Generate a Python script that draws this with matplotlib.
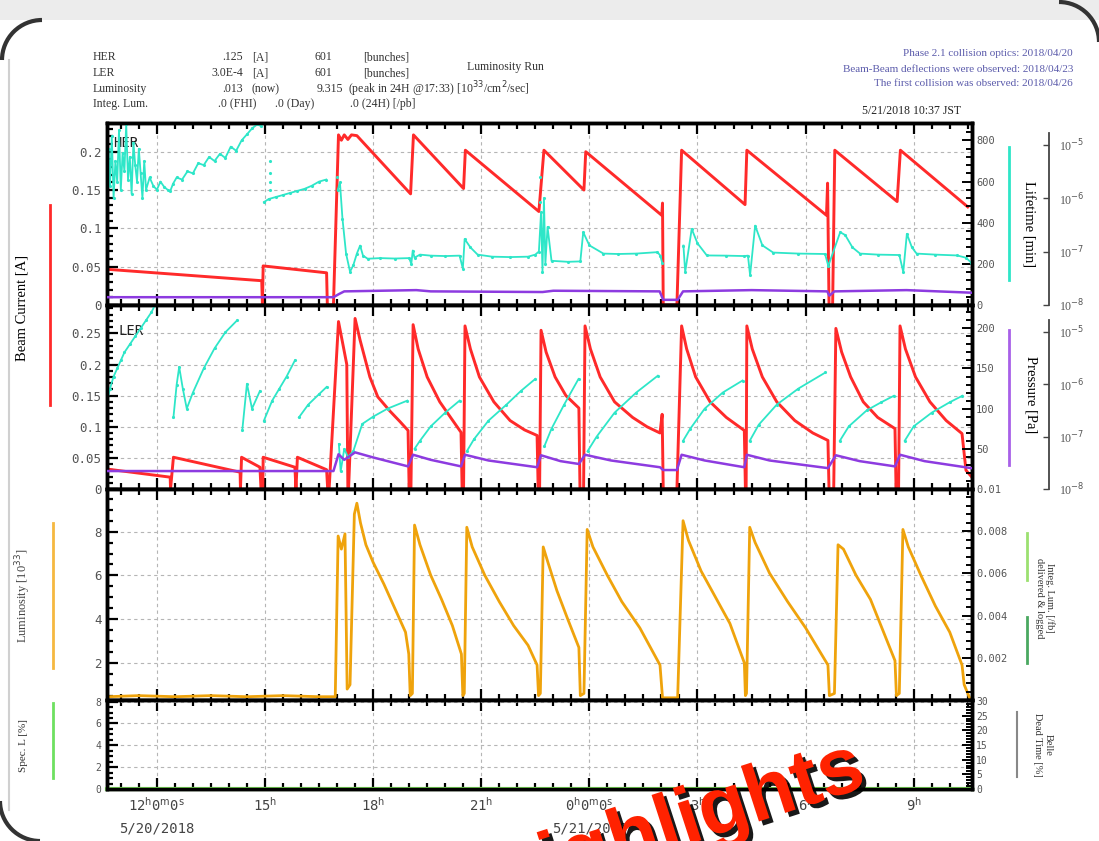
import numpy as np
import matplotlib.pyplot as plt
import matplotlib.patheffects as pe
from matplotlib.lines import Line2D
from matplotlib.patches import Arc, Rectangle
from matplotlib.ticker import MultipleLocator, FixedLocator, FuncFormatter, NullLocator
from matplotlib.transforms import IdentityTransform

nan = np.nan

# time axis: hours since 5/20/2018 00:00 JST
# HER beam current [A]
her_t = [10.62, 14.91, 14.93, 14.95, 16.71, 16.73, 16.90, 17.04, 17.12, 17.20, 17.30, 17.40, 17.55,
         19.04, 19.12, 20.51, 20.56, 22.60, 22.74, 23.85, 23.90, 26.01, 26.03, 26.05, 26.43, 26.56,
         28.32, 28.37, 30.58, 30.61, 30.65, 30.75, 30.81, 32.54, 32.63, 34.50]
her_i = [0.0466, 0.0317, 0.0, 0.051, 0.042, 0.0, 0.0, 0.222, 0.215, 0.222, 0.216, 0.222, 0.221,
         0.145, 0.222, 0.152, 0.202, 0.122, 0.202, 0.150, 0.200, 0.117, 0.133, 0.0, 0.0, 0.202,
         0.131, 0.202, 0.117, 0.159, 0.0, 0.0, 0.202, 0.135, 0.202, 0.128]

# HER lifetime [min]
her_lt_t = [10.62, 10.66, 10.70, 10.75, 10.80, 10.85, 10.90, 10.95, 11.00, 11.05,
            11.10, 11.15, 11.20, 11.25, 11.30, 11.35, 11.40, 11.45, 11.50, 11.55,
            11.60, 11.65, 11.70, 11.80, 11.90, 12.00, 12.10, 12.20, 12.30, 12.37,
            12.45, 12.55, 12.70, 12.85, 13.00, 13.15, 13.30, 13.45, 13.60, 13.75,
            13.90, 14.05, 14.20, 14.35, 14.50, 14.65, 14.80, 14.88, nan,
            14.97, 15.10, 15.30, 15.50, 15.70, 15.90, 16.10, 16.30, 16.50, 16.70, nan,
            17.02, 17.08, 17.15, 17.25, 17.36, 17.45, 17.55, 17.64, 17.72, 17.85,
            18.20, 18.60, 19.00, 19.06, 19.10, 19.15, 19.30, 19.60, 20.00, 20.40,
            20.49, 20.54, 20.70, 20.90, 21.30, 21.80, 22.30, 22.50, 22.60, 22.66,
            22.70, 22.74, 22.78, 22.84, 22.95, 23.40, 23.75, 23.83, 24.00, 24.39,
            24.80, 25.30, 25.89, 25.97, 26.02, nan,
            26.61, 26.66, 26.84, 27.00, 27.26, 27.80, 28.30, 28.40, 28.46, 28.60,
            28.80, 29.10, 29.80, 30.54, 30.63, 30.96, 31.10, 31.30, 31.51, 32.00,
            32.60, 32.71, 32.81, 32.95, 33.08, 33.60, 34.20, 34.45, 34.60]
her_lt = [640, 760, 580, 820, 520, 700, 600, 850, 560, 740,
          650, 880, 610, 720, 540, 790, 680, 600, 760, 640,
          520, 700, 560, 620, 580, 560, 600, 575, 560, 553,
          590, 620, 610, 650, 640, 690, 680, 720, 700, 735,
          715, 770, 750, 800, 830, 860, 880, 870, nan,
          500, 515, 525, 535, 545, 555, 565, 580, 600, 610, nan,
          560, 596, 420, 250, 162, 193, 250, 289, 240, 225,
          228, 226, 228, 200, 265, 230, 245, 240, 238, 240,
          177, 321, 280, 245, 235, 233, 235, 245, 260, 450,
          160, 520, 200, 380, 215, 210, 212, 354, 290, 250,
          248, 250, 257, 240, 205, nan,
          289, 160, 370, 300, 241, 240, 238, 240, 145, 386,
          290, 255, 250, 248, 190, 354, 340, 280, 250, 245,
          243, 161, 346, 280, 250, 245, 241, 230, 205]
her_lt_dot_t = [15.14, 15.14, 15.15, 15.15, 17.00, 22.62, 22.64]
her_lt_dot = [700, 640, 600, 560, 620, 500, 620]

# HER pressure [Pa]
her_p_t = [10.62, 16.90, 17.05, 17.20, 19.20, 19.60, 22.70, 23.00, 25.95, 26.05, 26.45, 26.60,
           28.50, 30.60, 30.66, 30.80, 32.80, 34.60]
her_p = [1.4e-8, 1.4e-8, 1.6e-8, 1.8e-8, 1.9e-8, 1.8e-8, 1.75e-8, 1.85e-8, 1.8e-8, 1.25e-8,
         1.25e-8, 1.8e-8, 1.9e-8, 1.8e-8, 1.5e-8, 1.8e-8, 1.9e-8, 1.7e-8]

# LER beam current [A]
ler_t = [10.62, 12.37, 12.38, 12.46, 14.31, 14.32, 14.35, 14.86, 14.89, 14.94, 14.95,
         15.83, 15.86, 15.90, 16.71, 16.74, 16.78, 17.04, 17.27, 17.30, 17.32,
         17.50, 17.64, 17.91, 18.13, 18.47, 18.75, 18.97, 19.00, 19.05,
         19.11, 19.25, 19.50, 19.85, 20.15, 20.44, 20.47, 20.51,
         20.55, 20.70, 20.95, 21.35, 21.80, 22.20, 22.55, 22.58, 22.62,
         22.66, 22.80, 23.05, 23.35, 23.71, 23.74, 23.84,
         23.88, 24.03, 24.30, 24.70, 25.20, 25.60, 25.96, 26.02, 26.05, 26.43,
         26.56, 26.70, 26.95, 27.35, 27.80, 28.30, 28.33, 28.35,
         28.37, 28.52, 28.80, 29.20, 29.70, 30.20, 30.62, 30.65, 30.78,
         30.84, 31.00, 31.25, 31.60, 32.00, 32.48, 32.51, 32.58,
         32.62, 32.77, 33.05, 33.45, 33.90, 34.34, 34.45, 34.60]
ler_i = [0.032, 0.019, 0.0, 0.051, 0.027, 0.0, 0.051, 0.035, 0.0, 0.0, 0.051,
         0.035, 0.0, 0.051, 0.031, 0.0, 0.0, 0.269, 0.200, 0.0, 0.0,
         0.274, 0.239, 0.180, 0.148, 0.125, 0.108, 0.094, 0.0, 0.0,
         0.264, 0.225, 0.180, 0.140, 0.115, 0.091, 0.0, 0.0,
         0.262, 0.225, 0.180, 0.140, 0.110, 0.095, 0.086, 0.0, 0.0,
         0.255, 0.220, 0.180, 0.150, 0.130, 0.0, 0.0,
         0.262, 0.225, 0.180, 0.140, 0.115, 0.100, 0.090, 0.120, 0.0, 0.0,
         0.262, 0.225, 0.180, 0.140, 0.115, 0.094, 0.0, 0.0,
         0.262, 0.225, 0.180, 0.140, 0.110, 0.090, 0.078, 0.0, 0.0,
         0.258, 0.220, 0.180, 0.140, 0.115, 0.097, 0.0, 0.0,
         0.262, 0.225, 0.180, 0.140, 0.110, 0.089, 0.030, 0.020]

# LER lifetime [min]
ler_lt_t = [10.62, 10.70, 10.80, 10.90, 11.00, 11.10, 11.25, 11.40, 11.55, 11.70, 11.85, 11.95, nan,
            12.46, 12.55, 12.62, 12.72, 12.83, 13.00, 13.30, 13.60, 13.90, 14.23, nan,
            14.37, 14.50, 14.64, 14.86, nan,
            14.97, 15.20, 15.40, 15.60, 15.83, nan,
            15.94, 16.20, 16.50, 16.71, nan,
            17.05, 17.10, 17.20, 17.30, 17.45, 17.70, 18.00, 18.40, 18.95, nan,
            19.15, 19.30, 19.60, 20.00, 20.40, nan,
            20.60, 20.80, 21.20, 21.70, 22.10, 22.50, nan,
            22.75, 22.95, 23.30, 23.70, nan,
            23.95, 24.20, 24.70, 25.30, 25.90, nan,
            26.60, 26.80, 27.20, 27.70, 28.25, nan,
            28.45, 28.70, 29.20, 29.80, 30.55, nan,
            30.95, 31.20, 31.70, 32.10, 32.45, nan,
            32.75, 33.00, 33.50, 34.00, 34.35]
ler_lt = [110, 125, 140, 150, 160, 170, 180, 190, 200, 210, 220, 229, nan,
          89, 130, 152, 125, 100, 120, 150, 175, 195, 210, nan,
          73, 131, 100, 122, nan,
          85, 110, 125, 140, 160, nan,
          89, 105, 118, 127, nan,
          56, 22, 50, 40, 47, 81, 90, 100, 110, nan,
          50, 60, 78, 95, 110, nan,
          47, 62, 85, 105, 122, 137, nan,
          53, 75, 105, 137, nan,
          47, 65, 95, 120, 141, nan,
          60, 75, 100, 120, 135, nan,
          60, 80, 105, 125, 145, nan,
          60, 78, 98, 108, 116, nan,
          60, 78, 95, 108, 116]

# LER pressure [Pa]
ler_p_t = [10.62, 16.90, 17.04, 17.20, 17.50, 18.00, 18.97, 19.11, 19.60, 20.44, 20.55, 21.20,
           22.55, 22.66, 23.20, 23.71, 23.88, 24.60, 25.96, 26.05, 26.43, 26.56, 27.20, 28.30,
           28.37, 29.00, 30.62, 30.84, 31.50, 32.48, 32.62, 33.30, 34.60]
ler_p = [2.2e-8, 2.2e-8, 4.6e-8, 3.6e-8, 5.0e-8, 4.0e-8, 2.7e-8, 4.5e-8, 3.6e-8, 2.7e-8, 4.5e-8,
         3.5e-8, 2.6e-8, 4.4e-8, 3.4e-8, 3.0e-8, 4.5e-8, 3.5e-8, 2.6e-8, 2.3e-8, 2.3e-8, 4.5e-8,
         3.5e-8, 2.6e-8, 4.5e-8, 3.5e-8, 2.5e-8, 4.4e-8, 3.4e-8, 2.7e-8, 4.5e-8, 3.4e-8, 2.5e-8]

# luminosity [10^33 /cm^2/s]
lum_t = [10.62, 11.5, 12.5, 13.5, 14.5, 15.5, 16.5, 16.95, 17.03, 17.12, 17.22, 17.28, 17.36,
         17.48, 17.55, 17.65, 17.8, 18.0, 18.3, 18.6, 18.9, 18.99, 19.03, 19.09, 19.15, 19.3,
         19.6, 19.9, 20.2, 20.45, 20.49, 20.53, 20.6, 20.75, 21.1, 21.5, 21.9, 22.3, 22.55,
         22.59, 22.64, 22.72, 22.85, 23.1, 23.4, 23.71, 23.75, 23.85, 23.94, 24.1, 24.5, 24.9,
         25.4, 25.96, 26.03, 26.45, 26.6, 26.75, 27.1, 27.5, 27.9, 28.3, 28.33, 28.36, 28.45,
         28.6, 29.0, 29.5, 30.0, 30.62, 30.66, 30.8, 30.9, 31.05, 31.4, 31.8, 32.48, 32.52,
         32.6, 32.7, 32.85, 33.2, 33.6, 34.0, 34.34, 34.4, 34.55]
lum = [0.45, 0.5, 0.45, 0.5, 0.45, 0.5, 0.45, 0.45, 7.8, 7.2, 7.9, 0.8, 1.0,
       8.8, 9.3, 8.4, 7.4, 6.6, 5.6, 4.5, 3.4, 2.4, 0.5, 0.6, 8.3, 7.4,
       6.0, 4.9, 3.7, 2.4, 0.5, 0.6, 8.2, 7.3, 6.0, 4.8, 3.7, 2.8, 1.9,
       0.5, 0.6, 7.3, 6.6, 5.3, 4.0, 2.7, 0.5, 0.6, 8.1, 7.3, 6.0, 4.8,
       3.6, 1.9, 0.4, 0.4, 8.5, 7.6, 6.2, 5.0, 3.8, 2.0, 0.5, 0.6, 8.2,
       7.5, 6.1, 4.8, 3.6, 1.9, 0.5, 0.6, 7.4, 7.2, 6.0, 4.9, 2.1, 0.5,
       0.6, 8.1, 7.3, 6.0, 4.6, 3.4, 1.9, 1.0, 0.4]

# specific luminosity [%]
spec_t = [10.62, 34.62]
spec = [0.0, 0.0]

W, H = 1099, 841
T0, T1 = 10.617, 34.617
RED, CYAN, PURPLE, ORANGE = '#ff2a2a', '#2ee6c8', '#8d3be0', '#efa30c'
SERIF = 'Liberation Serif'
plt.rcParams['font.family'] = 'DejaVu Sans Mono'


def fx(px):
    return px / W


def fy(py):
    return 1 - py / H


fig = plt.figure(figsize=(W / 100, H / 100), dpi=100)


def panel(top, bottom):
    return fig.add_axes([fx(107), fy(bottom), fx(972) - fx(107), (bottom - top) / H])


def style(ax, ylim, major, minor, size=9):
    ax.set_xlim(T0, T1)
    ax.set_ylim(*ylim)
    ax.xaxis.set_major_locator(MultipleLocator(3))
    ax.xaxis.set_minor_locator(MultipleLocator(0.5))
    ax.yaxis.set_major_locator(MultipleLocator(major))
    ax.yaxis.set_minor_locator(MultipleLocator(minor))
    ax.yaxis.set_major_formatter(FuncFormatter(lambda v, _: f"{v:g}"))
    ax.tick_params(which='both', direction='in', top=True, bottom=True, left=True, right=False,
                   width=1.6, color='k', labelbottom=False)
    ax.tick_params(which='major', length=8)
    ax.tick_params(which='minor', length=4)
    ax.tick_params(axis='y', labelsize=size, labelcolor='#555', pad=4)
    ax.grid(True, which='major', color='#b5b5b5', ls=(0, (3, 3)), lw=0.8)
    for s in ax.spines.values():
        s.set_linewidth(2.5)


def inner_right(ax, ylim, ticks, minor, size=7.5):
    r = ax.twinx()
    r.set_ylim(*ylim)
    r.yaxis.set_major_locator(FixedLocator(ticks))
    r.yaxis.set_minor_locator(MultipleLocator(minor))
    r.yaxis.set_major_formatter(FuncFormatter(lambda v, _: f"{v:g}"))
    r.tick_params(axis='y', which='both', direction='in', width=1.4, color='k',
                  labelsize=size, labelcolor='#555', pad=3)
    r.tick_params(axis='y', which='major', length=7)
    r.tick_params(axis='y', which='minor', length=4)
    for s in r.spines.values():
        s.set_linewidth(2.5)
    return r


def outer_log(ax, top_exp):
    p = ax.twinx()
    p.set_yscale('log')
    p.set_ylim(1e-8, 10 ** top_exp)
    sp = p.spines['right']
    sp.set_position(('axes', 1 + 77 / 865))
    sp.set_bounds(1e-8, 10 ** -4.78)
    sp.set_linewidth(1.3)
    sp.set_color('#444')
    for k in ('left', 'top', 'bottom'):
        p.spines[k].set_visible(False)
    p.set_yticks([1e-8, 1e-7, 1e-6, 1e-5],
                 labels=[r'10$^{-8}$', r'10$^{-7}$', r'10$^{-6}$', r'10$^{-5}$'],
                 fontfamily=SERIF, fontsize=8.5, color='#555')
    p.yaxis.set_minor_locator(NullLocator())
    p.tick_params(axis='y', direction='in', length=4, width=1, color='#444', pad=7)
    return p


# ---- panel 1: HER ----
ax1 = panel(123, 305)
style(ax1, (0, 0.2375), 0.05, 0.01)
r1 = inner_right(ax1, (0, 885), [0, 200, 400, 600, 800], 40)
p1 = outer_log(ax1, -4.59)
ax1.plot(her_t, her_i, color=RED, lw=2.1)
r1.plot(her_lt_t, her_lt, color=CYAN, lw=1.3, marker='.', ms=2.5)
r1.plot(her_lt_dot_t, her_lt_dot, ls='none', color=CYAN, marker='.', ms=2.5)
p1.plot(her_p_t, her_p, color=PURPLE, lw=1.8)
ax1.text(0.007, 0.89, 'HER', transform=ax1.transAxes, fontsize=10, color='#222', va='center')

# ---- panel 2: LER ----
ax2 = panel(305, 489)
style(ax2, (0, 0.2956), 0.05, 0.01)
r2 = inner_right(ax2, (0, 229), [50, 100, 150, 200], 10)
p2 = outer_log(ax2, -4.49)
ax2.plot(ler_t, ler_i, color=RED, lw=2.1)
r2.plot(ler_lt_t, ler_lt, color=CYAN, lw=1.3, marker='.', ms=2.5)
p2.plot(ler_p_t, ler_p, color=PURPLE, lw=1.8)
ax2.text(0.013, 0.86, 'LER', transform=ax2.transAxes, fontsize=10, color='#222', va='center')

# ---- panel 3: luminosity ----
ax3 = panel(489, 700)
style(ax3, (0.3, 9.95), 2, 0.5)
r3 = inner_right(ax3, (0, 0.01), [0.002, 0.004, 0.006, 0.008, 0.01], 0.0004)
ax3.plot(lum_t, lum, color=ORANGE, lw=2.0)

# ---- panel 4: specific luminosity ----
ax4 = panel(700, 789)
style(ax4, (0, 8.15), 2, 0.5, size=7)
r4 = inner_right(ax4, (0, 30.3), [0, 5, 10, 15, 20, 25, 30], 1, size=7)
ax4.plot(spec_t, spec, color='#7be05a', lw=3, clip_on=False, zorder=5)


def xlab(v, _):
    h = int(round(v)) % 24
    if h in (0, 12):
        return f"{h}" + r"$^\mathrm{h}$0$^\mathrm{m}$0$^\mathrm{s}$"
    return f"{h}" + r"$^\mathrm{h}$"


ax4.xaxis.set_major_formatter(FuncFormatter(xlab))
ax4.tick_params(axis='x', labelbottom=True, labelsize=10, labelcolor='#444', pad=5)
for day_x, day in [(12, '5/20/2018'), (24, '5/21/2018')]:
    ax4.text(day_x, -0.44, day, transform=ax4.get_xaxis_transform(), ha='center', va='center',
             fontsize=10, color='#444')


# ---- side labels and colour keys ----
def key(x, y0, y1, color, lw=2):
    fig.add_artist(Line2D([fx(x), fx(x)], [fy(y0), fy(y1)], color=color, lw=lw))


key(50, 205, 405, RED)
key(52.7, 523, 668, '#f5b840')
key(52.7, 703, 778, '#6ee060')
key(1009, 147, 280, CYAN)
key(1009, 330, 465, '#a860e8')
key(1027, 533, 580, '#9ce070')
key(1027, 617, 663, '#4aa860')
key(1017, 712, 777, '#888888', lw=1.5)

fig.text(fx(22), fy(308), 'Beam Current [A]', rotation=90, ha='center', va='center',
         family=SERIF, fontsize=10.5)
fig.text(fx(23), fy(596), r'Luminosity [10$^{33}$]', rotation=90, ha='center', va='center',
         family=SERIF, fontsize=9, color='#444')
fig.text(fx(23), fy(745), 'Spec. L [%]', rotation=90, ha='center', va='center',
         family=SERIF, fontsize=8, color='#333')
fig.text(fx(1028), fy(224), 'Lifetime [min]', rotation=270, ha='center', va='center',
         family=SERIF, fontsize=10.5)
fig.text(fx(1031), fy(395), 'Pressure [Pa]', rotation=270, ha='center', va='center',
         family=SERIF, fontsize=10.5)
fig.text(fx(1045), fy(598), 'Integ. Lum. [/fb]\ndelivered & logged', rotation=270,
         ha='center', va='center', family=SERIF, fontsize=7.5, color='#333')
fig.text(fx(1043), fy(745), 'Belle\nDead Time [%]', rotation=270, ha='center', va='center',
         family=SERIF, fontsize=7.5, color='#333')

# ---- header ----
hdr = dict(family=SERIF, fontsize=8.5, color='#333', va='center')
rows = [57, 73, 89, 104]
for y, name in zip(rows, ['HER', 'LER', 'Luminosity', 'Integ. Lum.']):
    fig.text(fx(93), fy(y), name, ha='left', **hdr)
for y, val in zip(rows[:3], ['.125', '3.0E-4', '.013']):
    fig.text(fx(243), fy(y), val, ha='right', **hdr)
for y, unit in zip(rows[:3], ['[A]', '[A]', '(now)']):
    fig.text(fx(252), fy(y), unit, ha='left', **hdr)
fig.text(fx(332), fy(57), '601', ha='right', **hdr)
fig.text(fx(332), fy(73), '601', ha='right', **hdr)
fig.text(fx(363), fy(57), '[bunches]', ha='left', **hdr)
fig.text(fx(363), fy(73), '[bunches]', ha='left', **hdr)
fig.text(fx(343), fy(89), '9.315', ha='right', **hdr)
fig.text(fx(348), fy(89), r'(peak in 24H @17:33) [10$^{33}$/cm$^2$/sec]', ha='left', **hdr)
fig.text(fx(218), fy(104), '.0 (FHI)', ha='left', **hdr)
fig.text(fx(275), fy(104), '.0 (Day)', ha='left', **hdr)
fig.text(fx(350), fy(104), '.0 (24H) [/pb]', ha='left', **hdr)
fig.text(fx(505), fy(67), 'Luminosity Run', ha='center', **hdr)

news = ['Phase 2.1 collision optics: 2018/04/20',
        'Beam-Beam deflections were observed: 2018/04/23',
        'The first collision was observed: 2018/04/26']
for y, line in zip([53, 69, 84], news):
    fig.text(fx(1073), fy(y), line, ha='right', va='center', family=SERIF, fontsize=8,
             color='#5b5bab')
fig.text(fx(911), fy(111), '5/21/2018 10:37 JST', ha='center', va='center', family=SERIF,
         fontsize=8.5, color='#222')

# ---- slide frame ----
fig.add_artist(Rectangle((0, fy(20)), 1, 20 / H, transform=fig.transFigure,
                         facecolor='#ececec', edgecolor='none', zorder=0))
fig.add_artist(Line2D([fx(9), fx(9)], [fy(60), fy(810)], color='#d0d0d0', lw=1.5))
for (cx, cy, a0, a1) in [(42, 60, 90, 180), (1059, 42, 0, 90), (40, 801, 180, 270)]:
    fig.add_artist(Arc((cx, H - cy), 80, 80, theta1=a0, theta2=a1, lw=3, color='#333',
                       transform=IdentityTransform()))

# ---- overlay ----
fig.text(fx(868), fy(786), 'highlights', rotation=18, rotation_mode='anchor', ha='right',
         va='baseline', fontsize=58, fontweight='bold', color='#ff2200', family='Liberation Sans',
         zorder=20,
         path_effects=[pe.withSimplePatchShadow(offset=(3, -3), shadow_rgbFace='black', alpha=0.9)])

fig.savefig('out.png', dpi=100)
